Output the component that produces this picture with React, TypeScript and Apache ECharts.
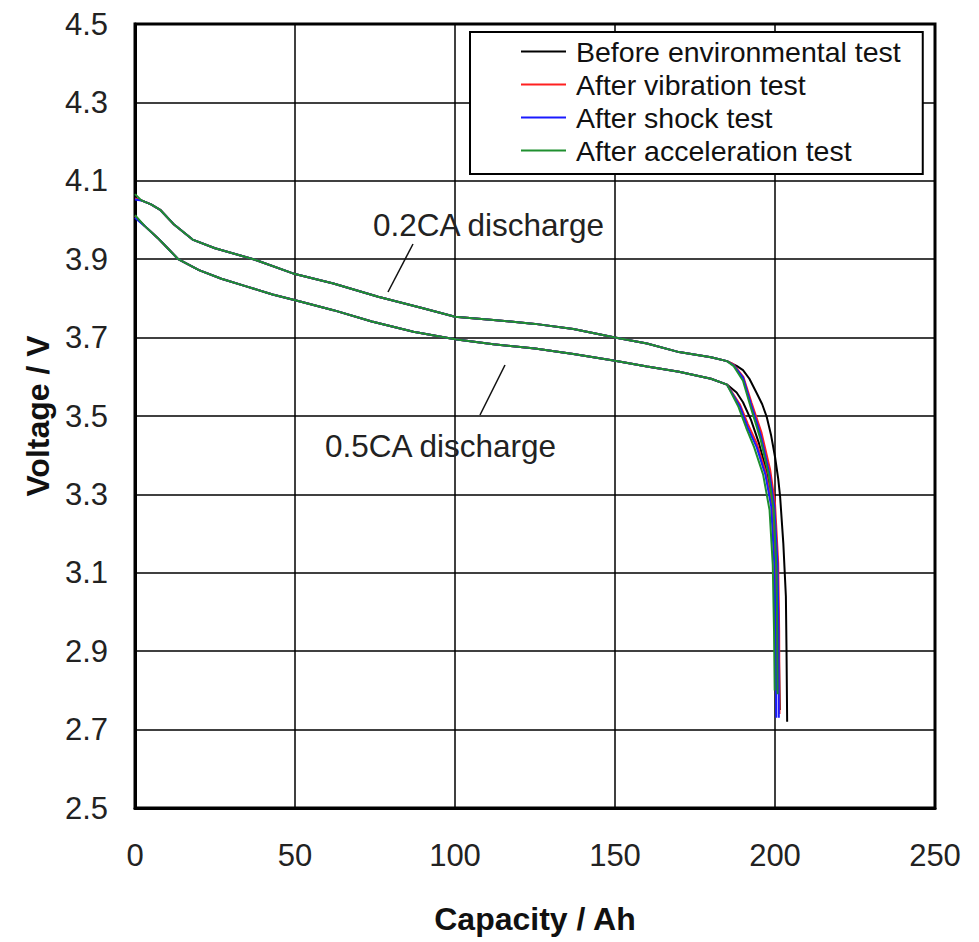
import React, { useEffect, useRef } from "react";
import * as echarts from "echarts";

// ---- Data (capacity in Ah, voltage in V) ----
const SERIES_NAMES = [
  "Before environmental test",
  "After vibration test",
  "After shock test",
  "After acceleration test",
];
const SERIES_COLORS = ["#000000", "#ff2020", "#1a1aff", "#1f8f2f"];

const X_TICKS = [0, 50, 100, 150, 200, 250];
const Y_TICK_LABELS = ["2.5", "2.7", "2.9", "3.1", "3.3", "3.5", "3.7", "3.9", "4.1", "4.3", "4.5"];

// 0.2CA discharge main body (shared)
const CAP_02 = [0, 2, 5, 8, 12, 18, 25, 37, 50, 62, 76, 90, 100, 112, 125, 137, 150, 160, 170, 180, 185];
const V_02 = [4.055, 4.05, 4.04, 4.025, 3.99, 3.95, 3.928, 3.9, 3.862, 3.838, 3.804, 3.775, 3.753, 3.745, 3.735, 3.722, 3.7, 3.685, 3.663, 3.65, 3.64];

// 0.5CA discharge main body (shared)
const CAP_05 = [0, 3, 7, 10, 13.5, 20, 27, 35, 43, 51.6, 62, 74, 87, 100, 112, 125, 137, 150, 160, 170, 180, 185];
const V_05 = [4.008, 3.985, 3.955, 3.93, 3.9, 3.872, 3.85, 3.83, 3.81, 3.792, 3.77, 3.741, 3.715, 3.696, 3.683, 3.672, 3.658, 3.641, 3.626, 3.613, 3.595, 3.58];

// End-of-discharge tails [capacity, voltage]
const TAIL_02_BLACK = [[188, 3.628], [190, 3.617], [192, 3.595], [194.3, 3.558], [196, 3.53], [197.4, 3.498], [198.8, 3.45], [200, 3.396], [201, 3.34], [201.6, 3.294], [202.6, 3.175], [203.4, 3.04], [203.6, 2.9], [203.8, 2.72]];
const TAIL_02_RED = [[187, 3.632], [190.1, 3.6], [192.7, 3.533], [195.8, 3.457], [198.5, 3.362], [200, 3.277], [201, 3.125], [201.3, 2.95], [201.4, 2.74]];
const TAIL_02_BLUE = [[187, 3.63], [190, 3.598], [192.5, 3.53], [195.5, 3.452], [198.2, 3.355], [199.8, 3.27], [200.8, 3.12], [201.1, 2.95], [201.2, 2.73]];
const TAIL_02_GREEN = [[187, 3.628], [190, 3.59], [192.5, 3.52], [195.5, 3.44], [198, 3.35], [199.6, 3.26], [200.5, 3.1], [200.7, 2.95], [200.8, 2.79]];

const TAIL_05_BLACK = [[188, 3.56], [190, 3.535], [192.5, 3.49], [195, 3.43], [197, 3.37], [198.8, 3.3], [200.2, 3.2], [201, 3.0], [201.5, 2.75]];
const TAIL_05_RED = [[189, 3.53], [191.5, 3.48], [194.3, 3.43], [197, 3.36], [199, 3.28], [200, 3.14], [200.4, 2.95], [200.6, 2.8]];
const TAIL_05_BLUE = [[189, 3.525], [191.5, 3.47], [194.3, 3.42], [197, 3.35], [198.8, 3.27], [199.8, 3.12], [200.2, 2.95], [200.4, 2.73]];
const TAIL_05_GREEN = [[188.5, 3.525], [191, 3.47], [193.5, 3.42], [196.3, 3.35], [198.3, 3.26], [199.3, 3.12], [199.7, 2.95], [199.9, 2.8]];

const TAILS_02 = [TAIL_02_BLACK, TAIL_02_RED, TAIL_02_BLUE, TAIL_02_GREEN];
const TAILS_05 = [TAIL_05_BLACK, TAIL_05_RED, TAIL_05_BLUE, TAIL_05_GREEN];
// Start voltages slightly differ (green starts higher)
const START_02 = [4.055, 4.055, 4.052, 4.066];
const START_05 = [4.008, 4.01, 4.006, 4.012];

const FONT = "'Liberation Sans', Arial, sans-serif";

export default function App() {
  const ref = useRef<HTMLDivElement>(null);

  useEffect(() => {
    if (!ref.current) return;
    const chart = echarts.init(ref.current, null, { renderer: "svg" });

    const series: any[] = [];
    SERIES_NAMES.forEach((name, i) => {
      const body02 = CAP_02.map((c, k) => [c, k === 0 ? START_02[i] : V_02[k]]);
      const body05 = CAP_05.map((c, k) => [c, k === 0 ? START_05[i] : V_05[k]]);
      series.push({
        type: "line",
        name,
        yAxisIndex: 0,
        showSymbol: false,
        symbol: "none",
        data: body02.concat(TAILS_02[i] as any),
        lineStyle: { color: SERIES_COLORS[i], width: 2 },
        itemStyle: { color: SERIES_COLORS[i] },
        z: 3 + i,
      });
      series.push({
        type: "line",
        name,
        yAxisIndex: 0,
        showSymbol: false,
        symbol: "none",
        data: body05.concat(TAILS_05[i] as any),
        lineStyle: { color: SERIES_COLORS[i], width: 2 },
        itemStyle: { color: SERIES_COLORS[i] },
        z: 3 + i,
      });
    });

    const option: any = {
      animation: false,
      backgroundColor: "#ffffff",
      textStyle: { fontFamily: FONT },
      grid: {
        left: 135,
        top: 24,
        right: 44,
        bottom: 134,
        show: true,
        borderColor: "#000",
        borderWidth: 3,
        containLabel: false,
      },
      legend: {
        orient: "vertical",
        left: 470,
        top: 32,
        data: SERIES_NAMES.map((n, i) => ({ name: n, itemStyle: { color: SERIES_COLORS[i] } })),
        icon: "rect",
        itemWidth: 45,
        itemHeight: 2,
        itemGap: 4,
        padding: [5, 22, 9, 51],
        borderColor: "#000",
        borderWidth: 2,
        backgroundColor: "#fff",
        textStyle: { fontFamily: FONT, fontSize: 28.5, color: "#111", padding: [0, 0, 0, 5] },
        selectedMode: false,
      },
      xAxis: {
        type: "value",
        min: X_TICKS[0],
        max: X_TICKS[X_TICKS.length - 1],
        interval: X_TICKS[1] - X_TICKS[0],
        name: "Capacity / Ah",
        nameLocation: "middle",
        nameGap: 95,
        nameTextStyle: { fontFamily: FONT, fontSize: 32, fontWeight: "bold", color: "#111" },
        axisLine: { show: true, lineStyle: { color: "#000", width: 3 } },
        axisTick: { show: false },
        axisLabel: { fontFamily: FONT, fontSize: 31, color: "#222", margin: 32 },
        splitLine: { show: true, lineStyle: { color: "#000", width: 1.5 } },
      },
      yAxis: [
        {
          type: "value",
          min: 2.5,
          max: 4.5,
          show: false,
          splitLine: { show: false },
        },
        {
          type: "value",
          position: "left",
          min: 0,
          max: Y_TICK_LABELS.length - 1,
          interval: 1,
          name: "Voltage / V",
          nameLocation: "middle",
          nameGap: 80,
          nameRotate: 90,
          nameTextStyle: { fontFamily: FONT, fontSize: 32, fontWeight: "bold", color: "#111" },
          axisLine: { show: true, lineStyle: { color: "#000", width: 3 } },
          axisTick: { show: false },
          axisLabel: {
            fontFamily: FONT,
            fontSize: 31,
            color: "#222",
            margin: 27,
            formatter: (v: number) => Y_TICK_LABELS[Math.round(v)] ?? "",
          },
          splitLine: { show: true, lineStyle: { color: "#000", width: 1.5 } },
        },
      ],
      graphic: [
        {
          type: "text",
          left: 373,
          top: 209,
          style: { text: "0.2CA discharge", fontFamily: FONT, fontSize: 31.5, fill: "#222" },
          z: 100,
        },
        {
          type: "line",
          shape: { x1: 413, y1: 244, x2: 388, y2: 292 },
          style: { stroke: "#111", lineWidth: 1.5 },
          z: 100,
        },
        {
          type: "text",
          left: 325,
          top: 430,
          style: { text: "0.5CA discharge", fontFamily: FONT, fontSize: 31.5, fill: "#222" },
          z: 100,
        },
        {
          type: "line",
          shape: { x1: 505, y1: 365, x2: 480, y2: 415 },
          style: { stroke: "#111", lineWidth: 1.5 },
          z: 100,
        },
      ],
      series,
    };
    chart.setOption(option);
    return () => chart.dispose();
  }, []);

  return (
    <div
      ref={ref}
      style={{ position: "fixed", left: 0, top: 0, width: 979, height: 942, background: "#fff" }}
    />
  );
}
